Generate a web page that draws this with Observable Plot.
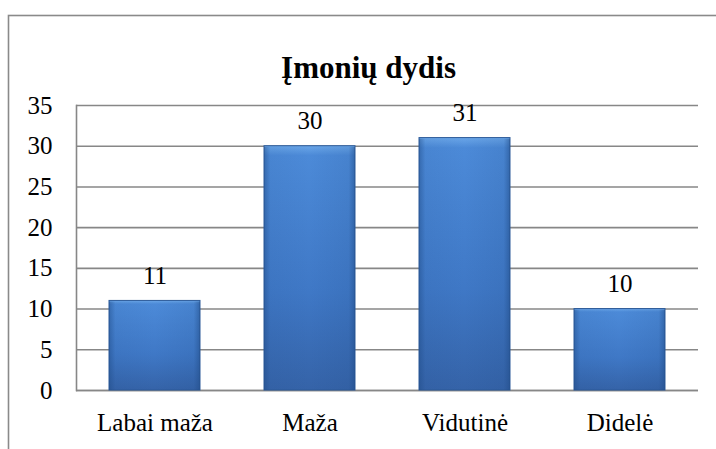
<!DOCTYPE html>
<html>
<head>
<meta charset="utf-8">
<script src="https://cdn.jsdelivr.net/npm/d3@7"></script>
<script src="https://cdn.jsdelivr.net/npm/@observablehq/plot@0.6"></script>
<style>
  html, body { margin: 0; padding: 0; background: #fff; overflow: hidden; }
  #chart { position: relative; width: 716px; height: 449px; }
  #chart svg, #chart svg text { font-family: "Liberation Serif", "Times New Roman", serif !important; }
</style>
</head>
<body>
<div id="chart"></div>
<script>
const title = "Įmonių dydis";
const categories = ["Labai maža", "Maža", "Vidutinė", "Didelė"];
const values = [11, 30, 31, 10];
const yTicks = [0, 5, 10, 15, 20, 25, 30, 35];

const data = categories.map((c, i) => ({category: c, value: values[i]}));
const font = "Liberation Serif";

const chart = Plot.plot({
  width: 716,
  height: 449,
  marginTop: 105,
  marginBottom: 59,
  marginLeft: 76,
  marginRight: 18,
  style: {fontFamily: font, fontSize: "25px", color: "#000", background: "#fff", overflow: "visible"},
  x: {domain: categories, paddingInner: 0.415, paddingOuter: 0.2075, label: null},
  y: {domain: [0, 35], label: null},
  marks: [
    Plot.gridY(yTicks, {stroke: "#878787", strokeOpacity: 1, strokeWidth: 1.6}),
    Plot.frame({anchor: "left", stroke: "#878787", strokeWidth: 1.6}),
    Plot.ruleY([0], {stroke: "#878787", strokeWidth: 1.6}),
    Plot.barY(data, {x: "category", y: "value", fill: "url(#barGrad)", stroke: "#2c5a99", strokeWidth: 1}),
    Plot.barY(data, {x: "category", y: "value", fill: "url(#sideGrad)", insetTop: 1}),
    Plot.text(data, {x: "category", y: "value", text: d => String(d.value), lineAnchor: "bottom", dy: -17, fontSize: 25, fontFamily: font, fill: "#000"}),
    Plot.axisY(yTicks, {tickSize: 0, tickPadding: 24, fontSize: 25, fontFamily: font, fill: "#000"}),
    Plot.axisX({tickSize: 0, tickPadding: 23, fontSize: 25, fontFamily: font, fill: "#000"}),
    Plot.text([title], {frameAnchor: "top", dy: -50, dx: -19, fontSize: 31, fontWeight: "bold", fontFamily: font, fill: "#000"})
  ]
});

const svg = d3.select(chart);
const defs = svg.insert("defs", ":first-child");
const g1 = defs.append("linearGradient").attr("id", "barGrad").attr("x1", 0).attr("y1", 0).attr("x2", 0).attr("y2", 1);
g1.append("stop").attr("offset", "0%").attr("stop-color", "#6aa6e8");
g1.append("stop").attr("offset", "4%").attr("stop-color", "#4c8ad8");
g1.append("stop").attr("offset", "60%").attr("stop-color", "#3f78c6");
g1.append("stop").attr("offset", "100%").attr("stop-color", "#3563a8");
const g2 = defs.append("linearGradient").attr("id", "sideGrad").attr("x1", 0).attr("y1", 0).attr("x2", 1).attr("y2", 0);
g2.append("stop").attr("offset", "0%").attr("stop-color", "#1f4a85").attr("stop-opacity", 0.5);
g2.append("stop").attr("offset", "7%").attr("stop-color", "#1f4a85").attr("stop-opacity", 0.08);
g2.append("stop").attr("offset", "50%").attr("stop-color", "#1f4a85").attr("stop-opacity", 0);
g2.append("stop").attr("offset", "93%").attr("stop-color", "#1f4a85").attr("stop-opacity", 0.12);
g2.append("stop").attr("offset", "100%").attr("stop-color", "#1f4a85").attr("stop-opacity", 0.55);

svg.append("rect")
  .attr("x", 8.5).attr("y", 15.5).attr("width", 760).attr("height", 480)
  .attr("fill", "none").attr("stroke", "#8a8a8a").attr("stroke-width", 1.6);

document.getElementById("chart").appendChild(chart);
</script>
</body>
</html>
